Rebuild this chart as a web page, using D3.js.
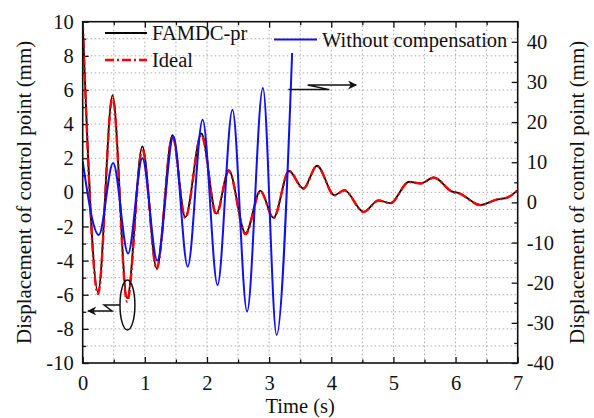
<!DOCTYPE html>
<html>
<head>
<meta charset="utf-8">
<script src="https://cdn.jsdelivr.net/npm/d3@7"></script>
<style>
  html, body { margin: 0; padding: 0; background: #fff; }
  svg { display: block; }
  svg text { fill: #111; }
</style>
</head>
<body>
<svg id="chart" width="594" height="418"></svg>
<script>
// ---------- DATA ----------
const time = [0, 0.247, 0.48, 0.715, 0.96, 1.19, 1.445, 1.65, 1.91, 2.15, 2.35, 2.62, 2.86, 3.07, 3.32, 3.55, 3.77, 4.05, 4.21, 4.52, 4.76, 4.95, 5.25, 5.44, 5.65, 5.95, 6.05, 6.4, 6.65, 6.84, 7.0];
const famdcPr = [10, -5.85, 5.7, -6.2, 2.7, -4.45, 3.35, -1.45, 3.45, -1.25, 1.3, -2.4, 0.1, -1.5, 1.25, 0.23, 1.56, -0.16, 0.13, -1.15, -0.47, -0.63, 0.62, 0.53, 0.87, 0.04, -0.04, -0.74, -0.43, -0.29, 0.13];
const ideal   = [10, -5.95, 5.6, -6.4, 2.55, -4.5, 3.3, -1.5, 3.35, -1.3, 1.25, -2.45, 0.05, -1.5, 1.25, 0.2, 1.55, -0.18, 0.12, -1.15, -0.48, -0.64, 0.6, 0.52, 0.86, 0.03, -0.05, -0.75, -0.44, -0.3, 0.12];
// Without compensation (right axis, mm)
const timeNoComp = [0, 0.26, 0.49, 0.73, 0.96, 1.2, 1.46, 1.69, 1.93, 2.17, 2.41, 2.645, 2.9, 3.12, 3.37];
const withoutComp = [10.2, -8.1, 9.8, -12.7, 11.0, -14.5, 16.4, -16.0, 20.6, -20.6, 23.1, -27.2, 28.5, -33.0, 37.2];

const xTicks = [0, 1, 2, 3, 4, 5, 6, 7];
const yLeftTicks = [-10, -8, -6, -4, -2, 0, 2, 4, 6, 8, 10];
const yRightTicks = [-40, -30, -20, -10, 0, 10, 20, 30, 40];
const legendLabels = ["FAMDC-pr", "Ideal", "Without compensation"];
const xTitle = "Time (s)";
const yTitle = "Displacement of control point (mm)";

// annotations (data units, left axis)
const ellipseCenter = [0.72, -6.6];
const ellipseRadii = [0.12, 1.46];
const leftArrow = [[0.6, -6.6], [0.345, -6.6], [0.47, -6.95], [0.087, -6.95]];
const rightArrow = [[3.31, 6.02], [3.97, 6.02], [3.62, 6.29], [4.4, 6.29]];

// ---------- LAYOUT ----------
const FONT = "Liberation Serif, Tinos, Times New Roman, Times, Nimbus Roman, Noto Serif, DejaVu Serif, FreeSerif, serif";
const svg = d3.select("#chart");
const L = 82.7, R = 517.7, T = 21.7, B = 363;
const x = d3.scaleLinear().domain([0, 7]).range([L, R]);
const y = d3.scaleLinear().domain([-10, 10]).range([B, T]);
const yR = d3.scaleLinear().domain([-40, 45]).range([B, T]);
const FS = 20.5;
const fmt = d => String(d);

// grid
const g = svg.append("g");
const gridX = d3.range(0.5, 7, 0.5);
const gridY = d3.range(-9, 10, 1);
g.selectAll(".gx").data(gridX).join("line")
  .attr("x1", d => x(d)).attr("x2", d => x(d)).attr("y1", T).attr("y2", B)
  .attr("stroke", "#aaa").attr("stroke-width", 1).attr("stroke-dasharray", "1.5,2.5");
g.selectAll(".gy").data(gridY).join("line")
  .attr("x1", L).attr("x2", R).attr("y1", d => y(d)).attr("y2", d => y(d))
  .attr("stroke", "#aaa").attr("stroke-width", 1).attr("stroke-dasharray", "1.5,2.5");

// axes with inward ticks
function minorTicks(axis, vals) { return axis.tickValues(vals).tickSize(-3.5).tickFormat(""); }
const xMinor = d3.range(0.5, 7, 1);
const yMinor = d3.range(-9, 10, 2);
const yRMinor = d3.range(-35, 45, 10);

const axB = svg.append("g").attr("transform", `translate(0,${B})`)
  .call(d3.axisBottom(x).tickValues(xTicks).tickSize(-6).tickPadding(12).tickFormat(fmt));
svg.append("g").attr("transform", `translate(0,${B})`).call(minorTicks(d3.axisBottom(x), xMinor));
svg.append("g").attr("transform", `translate(0,${T})`).call(d3.axisTop(x).tickValues(xTicks).tickSize(-6).tickFormat(""));
svg.append("g").attr("transform", `translate(0,${T})`).call(minorTicks(d3.axisTop(x), xMinor));

svg.append("g").attr("transform", `translate(${L},0)`)
  .call(d3.axisLeft(y).tickValues(yLeftTicks).tickSize(-6).tickPadding(9).tickFormat(fmt));
svg.append("g").attr("transform", `translate(${L},0)`).call(minorTicks(d3.axisLeft(y), yMinor));

svg.append("g").attr("transform", `translate(${R},0)`)
  .call(d3.axisRight(yR).tickValues(yRightTicks).tickSize(-6).tickPadding(9).tickFormat(fmt));
svg.append("g").attr("transform", `translate(${R},0)`).call(minorTicks(d3.axisRight(yR), yRMinor));

svg.selectAll(".domain").remove();
svg.selectAll("g[font-family]").attr("font-family", FONT).attr("font-size", FS);
svg.selectAll(".tick line").attr("stroke", "#111").attr("stroke-width", 1.3);
svg.selectAll(".tick text").attr("font-family", FONT).attr("font-size", FS).attr("fill", "#111");
axB.selectAll(".tick text").attr("dy", "0.71em");

// data lines
const clipId = "plotclip";
svg.append("clipPath").attr("id", clipId).append("rect")
  .attr("x", L).attr("y", T).attr("width", R - L).attr("height", B - T);
const lines = svg.append("g").attr("clip-path", `url(#${clipId})`);

const lineL = d3.line().x(d => x(d[0])).y(d => y(d[1])).curve(d3.curveMonotoneX);
const lineR = d3.line().x(d => x(d[0])).y(d => yR(d[1])).curve(d3.curveMonotoneX);

lines.append("path").datum(d3.zip(time, famdcPr)).attr("d", lineL)
  .attr("fill", "none").attr("stroke", "#000").attr("stroke-width", 1.8);
lines.append("path").datum(d3.zip(time, ideal)).attr("d", lineL)
  .attr("fill", "none").attr("stroke", "#f00").attr("stroke-width", 2.4)
  .attr("stroke-dasharray", "9,3,2,3");
lines.append("path").datum(d3.zip(timeNoComp, withoutComp)).attr("d", lineR)
  .attr("fill", "none").attr("stroke", "#1010f0").attr("stroke-width", 2);

// frame
svg.append("rect").attr("x", L).attr("y", T).attr("width", R - L).attr("height", B - T)
  .attr("fill", "none").attr("stroke", "#111").attr("stroke-width", 1.6);

// annotations
svg.append("ellipse")
  .attr("cx", x(ellipseCenter[0])).attr("cy", y(ellipseCenter[1]))
  .attr("rx", x(ellipseRadii[0]) - x(0)).attr("ry", y(0) - y(ellipseRadii[1]))
  .attr("fill", "none").attr("stroke", "#111").attr("stroke-width", 1.5);

svg.append("defs").append("marker").attr("id", "ah")
  .attr("viewBox", "0 0 10 10").attr("refX", 9).attr("refY", 5)
  .attr("markerWidth", 12).attr("markerHeight", 9).attr("markerUnits", "userSpaceOnUse")
  .attr("orient", "auto")
  .append("path").attr("d", "M0,0 L10,5 L0,10 L3,5 Z").attr("fill", "#111");

const arrowLine = d3.line().x(d => x(d[0])).y(d => y(d[1]));
[leftArrow, rightArrow].forEach(a => {
  svg.append("path").attr("d", arrowLine(a)).attr("fill", "none")
    .attr("stroke", "#111").attr("stroke-width", 1.5).attr("marker-end", "url(#ah)");
});

// legend
const legendItems = [
  { label: legendLabels[0], x0: 105, x1: 147, y: 33, color: "#000", w: 1.8, dash: null },
  { label: legendLabels[1], x0: 105, x1: 147, y: 60, color: "#f00", w: 2.4, dash: "9,3,2,3" },
  { label: legendLabels[2], x0: 274, x1: 317, y: 39.5, color: "#1010f0", w: 2, dash: null }
];
const lg = svg.append("g");
legendItems.forEach(it => {
  lg.append("line").attr("x1", it.x0).attr("x2", it.x1).attr("y1", it.y).attr("y2", it.y)
    .attr("stroke", it.color).attr("stroke-width", it.w).attr("stroke-dasharray", it.dash);
  lg.append("text").attr("x", it.x1 + 5).attr("y", it.y).attr("dy", "0.35em")
    .attr("font-family", FONT).attr("font-size", FS).text(it.label);
});

// axis titles
svg.append("text").attr("x", (L + R) / 2).attr("y", 413).attr("text-anchor", "middle")
  .attr("font-family", FONT).attr("font-size", FS).text(xTitle);
svg.append("text").attr("transform", `translate(31,${(T + B) / 2}) rotate(-90)`)
  .attr("font-family", FONT).attr("text-anchor", "middle").attr("font-size", 21).text(yTitle);
svg.append("text").attr("transform", `translate(584,${(T + B) / 2}) rotate(-90)`)
  .attr("font-family", FONT).attr("text-anchor", "middle").attr("font-size", 21).text(yTitle);
</script>
</body>
</html>
